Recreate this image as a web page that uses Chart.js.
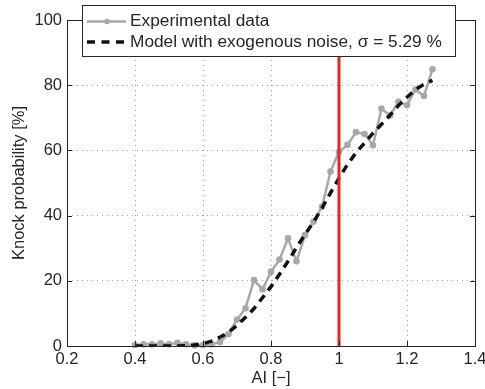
<!DOCTYPE html>
<html><head><meta charset="utf-8">
<script src="https://cdn.jsdelivr.net/npm/chart.js@4/dist/chart.umd.min.js"></script>
<style>html,body{margin:0;padding:0;background:#fff;}#wrap{width:485px;height:389px;}</style>
</head><body><div id="wrap"><canvas id="c" width="485" height="389"></canvas></div>
<script>
const aiValues = [0.400,0.425,0.450,0.475,0.500,0.525,0.550,0.575,0.600,0.625,0.650,0.675,0.700,0.725,0.750,0.775,0.800,0.825,0.850,0.875,0.900,0.925,0.950,0.975,1.000,1.025,1.050,1.075,1.100,1.125,1.150,1.175,1.200,1.225,1.250,1.275];
const experimentalData = [0.3,0.5,0.5,0.8,0.5,1.0,0.5,0.2,0.3,0.5,1.2,3.7,8.1,11.6,20.2,17.4,22.8,26.5,33.0,26.0,34.0,38.1,42.7,53.5,59.6,61.7,65.6,65.0,61.6,72.8,70.7,74.9,73.9,78.7,76.7,84.9];
const modelData = [0,0,0,0,0,0,0.1,0.3,0.7,1.5,2.7,4.2,6.3,8.8,11.5,14.8,18.2,22.0,26.0,30.2,34.2,38.0,42.3,47.0,51.5,55.7,59.3,62.3,65.3,68.0,70.8,73.8,76.3,78.7,80.3,81.5];
const xTicks = [0.2,0.4,0.6,0.8,1.0,1.2,1.4];
const yTicks = [0,20,40,60,80,100];
const referenceAI = [1.0,1.0];
const referenceY = [0,100];
const seriesLabels = ["Experimental data","Model with exogenous noise, \u03c3 = 5.29 %"];
const axisTitles = {x:"AI [\u2212]", y:"Knock probability [%]"};

const FONT = "'Liberation Sans', Arial, sans-serif";
const pts = (xs, ys) => xs.map((x,i)=>({x:x,y:ys[i]}));

const framePlugin = {
  id:'frame',
  afterDatasetsDraw(chart){
    const {ctx, chartArea:a, scales} = chart;
    ctx.save();
    ctx.strokeStyle = '#262626';
    ctx.lineWidth = 1;
    ctx.beginPath();
    xTicks.forEach(v=>{
      const px = Math.round(scales.x.getPixelForValue(v))+0.5;
      ctx.moveTo(px, a.bottom); ctx.lineTo(px, a.bottom-5);
      ctx.moveTo(px, a.top); ctx.lineTo(px, a.top+5);
    });
    yTicks.forEach(v=>{
      const py = Math.round(scales.y.getPixelForValue(v))+0.5;
      ctx.moveTo(a.left, py); ctx.lineTo(a.left+5, py);
      ctx.moveTo(a.right, py); ctx.lineTo(a.right-5, py);
    });
    ctx.stroke();
    ctx.strokeRect(Math.round(a.left)+0.5, Math.round(a.top)+0.5, Math.round(a.right-a.left), Math.round(a.bottom-a.top));
    ctx.restore();
  },
  afterDraw(chart){
    const ctx = chart.ctx;
    const ds = chart.data.datasets;
    const exp = ds[2], mod = ds[1];
    ctx.save();
    ctx.fillStyle = '#fff';
    ctx.fillRect(82,5,373,51);
    ctx.strokeStyle = '#262626';
    ctx.lineWidth = 1;
    ctx.strokeRect(82.5,5.5,373,51);
    const y1 = 21.5, y2 = 42;
    ctx.strokeStyle = exp.borderColor; ctx.lineWidth = exp.borderWidth;
    ctx.beginPath(); ctx.moveTo(87,y1); ctx.lineTo(126,y1); ctx.stroke();
    ctx.fillStyle = exp.pointBackgroundColor;
    ctx.beginPath(); ctx.arc(107,y1,exp.pointRadius-0.5,0,Math.PI*2); ctx.fill();
    ctx.strokeStyle = mod.borderColor; ctx.lineWidth = mod.borderWidth;
    ctx.setLineDash([8,6.5]);
    ctx.beginPath(); ctx.moveTo(87,y2); ctx.lineTo(126,y2); ctx.stroke();
    ctx.setLineDash([]);
    ctx.fillStyle = '#262626';
    ctx.font = '17.3px ' + FONT;
    ctx.textBaseline = 'middle';
    ctx.fillText(exp.label, 130, y1);
    ctx.fillText(mod.label, 130, y2);
    ctx.restore();
  }
};

new Chart(document.getElementById('c'), {
  type:'line',
  data:{
    datasets:[
      {label:'AI = 1', data:pts(referenceAI, referenceY), borderColor:'#ea2229', borderWidth:3, pointRadius:0, fill:false},
      {label:seriesLabels[1], data:pts(aiValues, modelData), borderColor:'#111', borderWidth:3.5, borderDash:[8,6], pointRadius:0, fill:false, tension:0},
      {label:seriesLabels[0], data:pts(aiValues, experimentalData), borderColor:'#a8a8a8', borderWidth:2.5, pointRadius:3.3, pointBackgroundColor:'#a8a8a8', pointBorderWidth:0, fill:false, clip:false, tension:0}
    ]
  },
  options:{
    responsive:false, animation:false, devicePixelRatio:1,
    layout:{padding:{top:20,right:10,left:0,bottom:0}},
    plugins:{legend:{display:false}, tooltip:{enabled:false}},
    scales:{
      x:{type:'linear', min:0.2, max:1.4,
        afterBuildTicks:s=>{s.ticks = xTicks.map(v=>({value:v}));},
        ticks:{callback:v=>String(+v.toFixed(1)), font:{family:FONT,size:16.5}, color:'#262626', padding:4, maxRotation:0, autoSkip:false},
        grid:{color:'#a0a0a0', lineWidth:1, drawTicks:false},
        border:{display:false, dash:[1,4]},
        title:{display:true, text:axisTitles.x, font:{family:FONT,size:16.5}, color:'#262626', padding:{top:0,bottom:1}},
        afterFit:s=>{s.height=43; s.paddingLeft=0; s.paddingRight=0;}
      },
      y:{type:'linear', min:0, max:100,
        afterBuildTicks:s=>{s.ticks = yTicks.map(v=>({value:v}));},
        ticks:{font:{family:FONT,size:16.5}, color:'#262626', padding:5},
        grid:{color:'#a0a0a0', lineWidth:1, drawTicks:false},
        border:{display:false, dash:[1,4]},
        title:{display:true, text:axisTitles.y, font:{family:FONT,size:16.5}, color:'#262626', padding:{top:10,bottom:0}},
        afterFit:s=>{s.width=67; s.paddingTop=0; s.paddingBottom=0;}
      }
    }
  },
  plugins:[framePlugin]
});
</script></body></html>
